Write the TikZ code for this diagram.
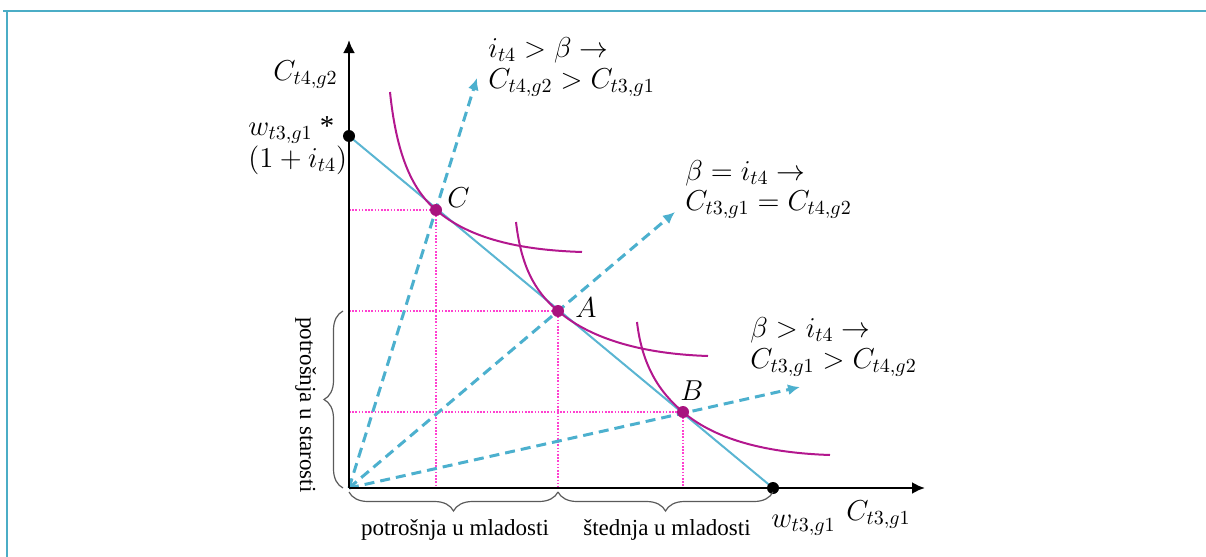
\documentclass[tikz,border=0pt]{standalone}
\usepackage{fontspec}
\setmainfont{Liberation Serif}
\usetikzlibrary{arrows.meta,decorations.pathreplacing,positioning}
\definecolor{cBudget}{HTML}{5AB5D2}
\definecolor{cRay}{HTML}{4CB0CE}
\definecolor{cIC}{HTML}{B3178E}
\definecolor{cPt}{HTML}{A8137F}
\definecolor{cGrid}{HTML}{FF40D0}
\definecolor{cFrame}{HTML}{4BADC6}
\definecolor{cBrace}{HTML}{5A5A5A}

\begin{document}
\begin{tikzpicture}[x=0.5pt,y=-0.5pt,
  lbl/.style={font=\Large,inner sep=0pt,anchor=base west},
  txt/.style={font=\fontsize{11.5}{13}\selectfont,inner sep=0pt,anchor=base},
  axis/.style={-{Latex[length=6.5pt,width=6pt]},line width=1.2pt},
  ray/.style={-{Latex[length=6pt,width=5.5pt]},cRay,line width=1.5pt,
              dash pattern=on 5pt off 3pt},
  budget/.style={cBudget,line width=1pt},
  ic/.style={cIC,line width=1pt},
  grid/.style={cGrid,line width=0.8pt,dash pattern=on 0.8pt off 0.8pt},
  brc/.style={cBrace,line width=0.6pt,decorate,decoration={brace,amplitude=9.5pt}},
  pt/.style={circle,fill=cPt,inner sep=0pt,minimum size=6pt},
  bdot/.style={circle,fill=black,inner sep=0pt,minimum size=6pt},
  frame/.style={cFrame,line width=1pt}
]
\useasboundingbox (0,0) rectangle (1206,557);
\draw[frame] (3,11) -- (1206,11);
\draw[frame] (7,11) -- (7,557);

\coordinate (O) at (349,488);
\coordinate (ytip) at (349,40);
\coordinate (xtip) at (925,488);
\coordinate (wy) at (349,136);
\coordinate (wx) at (773,488);
\coordinate (C) at (436,210);
\coordinate (A) at (558,311);
\coordinate (B) at (683,412);
\coordinate (rC) at (477,78);
\coordinate (rA) at (675,212);
\coordinate (rB) at (800,387);
\coordinate (Cx) at (C |- O);
\coordinate (Cy) at (C -| O);
\coordinate (Ax) at (A |- O);
\coordinate (Ay) at (A -| O);
\coordinate (Bx) at (B |- O);
\coordinate (By) at (B -| O);

\draw[grid] (Cy) -- (C) -- (Cx);
\draw[grid] (Ay) -- (A) -- (Ax);
\draw[grid] (By) -- (B) -- (Bx);

\draw[ray] (O) -- (rC);
\draw[ray] (O) -- (rA);
\draw[ray] (O) -- (rB);

\draw[budget] (wy) -- (wx);

\draw[ic] (390,92) .. controls (396,150) and (410,188) .. (C)
          .. controls (470,239) and (520,250) .. (582,252);
\draw[ic] (516,222) .. controls (521,265) and (534,291) .. (A)
          .. controls (592,340) and (645,354) .. (708,356);
\draw[ic] (637,322) .. controls (642,365) and (659,392) .. (B)
          .. controls (717,441) and (770,453) .. (830,455);

\draw[axis] (O) -- (ytip);
\draw[axis] (O) -- (xtip);

\node[bdot] (wyd) at (wy) {};
\node[bdot] (wxd) at (wx) {};
\node[pt] (Cd) at (C) {};
\node[pt] (Ad) at (A) {};
\node[pt] (Bd) at (B) {};

\node[lbl] (Clab) at (447,207) {$C$};
\node[lbl] (Alab) at (575,317) {$A$};
\node[lbl] (Blab) at (680,400) {$B$};

\node[lbl,anchor=base east] (ylab) at (338,80) {$C_{t4,g2}$};
\node[lbl] (xlab) at (846,520) {$C_{t3,g1}$};
\node[lbl] (wxlab) at (771,527) {$w_{t3,g1}$};
\node[lbl] (wylab1) at (248,135) {$w_{t3,g1}$ *};
\node[lbl] (wylab2) at (248,167) {$(1+i_{t4})$};

\node[lbl] (up1) at (488,57) {$i_{t4} > \beta \rightarrow$};
\node[lbl] (up2) at (488,88) {$C_{t4,g2} > C_{t3,g1}$};
\node[lbl] (eq1) at (685,180) {$\beta = i_{t4} \rightarrow$};
\node[lbl] (eq2) at (685,210) {$C_{t3,g1} = C_{t4,g2}$};
\node[lbl] (dn1) at (750,337) {$\beta > i_{t4} \rightarrow$};
\node[lbl] (dn2) at (750,368) {$C_{t3,g1} > C_{t4,g2}$};

\draw[brc] ([xshift=-3pt]O) -- ([xshift=-3pt]Ay);
\draw[brc,decoration={mirror}] ([yshift=-2pt]O) -- ([yshift=-2pt]Ax);
\draw[brc,decoration={mirror}] ([yshift=-2pt]Ax) -- ([yshift=-2pt]wx);

\node[txt,rotate=-90] (old) at (300,405) {potrošnja u starosti};
\node[txt] (young1) at (455,535) {potrošnja u mladosti};
\node[txt] (young2) at (667,535) {štednja u mladosti};
\end{tikzpicture}
\end{document}
